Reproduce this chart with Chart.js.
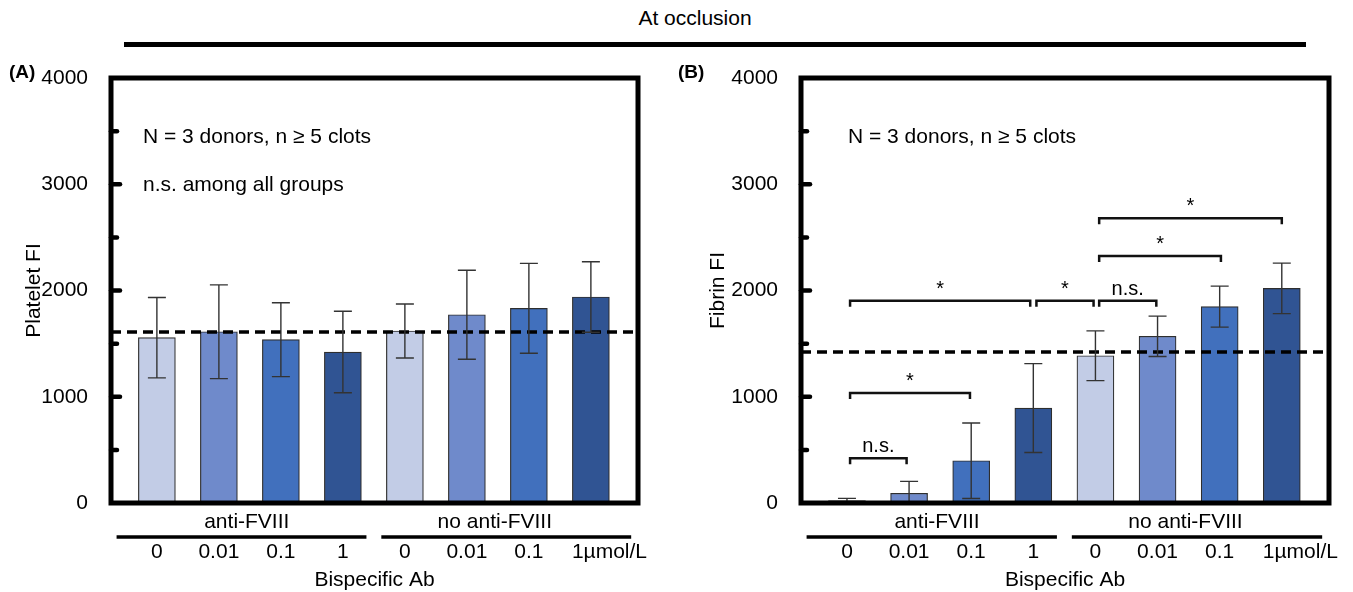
<!DOCTYPE html>
<html>
<head>
<meta charset="utf-8">
<script src="https://cdn.jsdelivr.net/npm/chart.js@4/dist/chart.umd.min.js"></script>
<style>
  body { margin: 0; background: #fff; font-family: "Liberation Sans", Arial, sans-serif; }
  #wrap { position: relative; width: 1353px; height: 592px; overflow: hidden; }
  #title { position: absolute; left: 495px; top: 6px; width: 400px; text-align: center; font-size: 21px; color: #000; }
  #rule { position: absolute; left: 124px; top: 41.5px; width: 1182px; height: 5px; background: #000; }
  canvas { position: absolute; top: 0; }
</style>
</head>
<body>
<div id="wrap">
  <div id="title">At occlusion</div>
  <div id="rule"></div>
  <canvas id="panelA" width="670" height="592" style="left:0px"></canvas>
  <canvas id="panelB" width="683" height="592" style="left:670px"></canvas>
</div>
<script>
// categories and groups (bispecific Ab concentration)
var categories = ['0', '0.01', '0.1', '1', '0', '0.01', '0.1', '1µmol/L'];
var groups = ['anti-FVIII', 'no anti-FVIII'];
var yTickValues = [0, 1000, 2000, 3000, 4000];
var barColors = ['#c2cce6', '#6f8acb', '#4170bd', '#305493', '#c2cce6', '#6f8acb', '#4170bd', '#305493'];

// (A) platelet FI, mean and SD
var platelet = [1556, 1612, 1537, 1421, 1619, 1772, 1832, 1939];
var plateletSD = [378, 441, 348, 384, 254, 419, 423, 332];
var plateletRef = 1610;
var plateletNotes = [['N = 3 donors, n ≥ 5 clots', 3445], ['n.s. among all groups', 2995]];

// (B) fibrin FI, mean and SD
var fibrin = [22, 91, 398, 894, 1386, 1569, 1848, 2020];
var fibrinSD = [22, 113, 355, 418, 234, 190, 193, 238];
var fibrinRef = 1422;
var fibrinNotes = [['N = 3 donors, n ≥ 5 clots', 3445]];
// [from bar, to bar, height, label]
var fibrinBrackets = [
  [0.05, 0.96, 421, 'n.s.'],
  [0.05, 1.98, 1035, '*'],
  [0.05, 2.95, 1904, '*'],
  [3.05, 3.97, 1904, '*'],
  [4.06, 4.98, 1904, 'n.s.'],
  [4.06, 6.02, 2325, '*'],
  [4.06, 7.0, 2679, '*']
];

var FONT = '"Liberation Sans", Arial, sans-serif';
Chart.defaults.font.family = FONT;
Chart.defaults.color = '#000';

var extras = {
  id: 'extras',
  afterDatasetsDraw: function (chart, args, o) {
    var ctx = chart.ctx;
    var xs = chart.scales.x, ys = chart.scales.y;
    var area = chart.chartArea;
    ctx.save();

    // dashed reference line
    ctx.strokeStyle = '#000';
    ctx.lineWidth = 3.5;
    ctx.setLineDash([10, 6]);
    var yr = ys.getPixelForValue(o.ref);
    ctx.beginPath();
    ctx.moveTo(area.left, yr);
    ctx.lineTo(area.right, yr);
    ctx.stroke();
    ctx.setLineDash([]);

    // error bars
    ctx.strokeStyle = '#333';
    ctx.lineWidth = 1.4;
    o.values.forEach(function (v, i) {
      var x = xs.getPixelForValue(i);
      var top = ys.getPixelForValue(v + o.sd[i]);
      var bot = ys.getPixelForValue(Math.max(0, v - o.sd[i]));
      ctx.beginPath();
      ctx.moveTo(x, top); ctx.lineTo(x, bot);
      ctx.moveTo(x - 9, top); ctx.lineTo(x + 9, top);
      if (v - o.sd[i] > 0) { ctx.moveTo(x - 9, bot); ctx.lineTo(x + 9, bot); }
      ctx.stroke();
    });

    // significance brackets
    ctx.strokeStyle = '#111';
    ctx.fillStyle = '#000';
    ctx.lineWidth = 2.5;
    ctx.font = '20px ' + FONT;
    ctx.textAlign = 'center';
    ctx.textBaseline = 'alphabetic';
    (o.brackets || []).forEach(function (b) {
      var x1 = xs.getPixelForValue(b[0]);
      var x2 = xs.getPixelForValue(b[1]);
      var y = ys.getPixelForValue(b[2]);
      ctx.beginPath();
      ctx.moveTo(x1, y + 6); ctx.lineTo(x1, y); ctx.lineTo(x2, y); ctx.lineTo(x2, y + 6);
      ctx.stroke();
      ctx.fillText(b[3], (x1 + x2) / 2, y - 6);
    });

    // frame and inner ticks
    ctx.strokeStyle = '#000';
    ctx.lineWidth = 5;
    ctx.strokeRect(area.left, area.top, area.right - area.left, area.bottom - area.top);
    ctx.lineWidth = 4.5;
    ctx.lineCap = 'round';
    for (var t = 500; t < 4000; t += 500) {
      var yt = ys.getPixelForValue(t);
      ctx.beginPath();
      ctx.moveTo(area.left, yt);
      ctx.lineTo(area.left + (t % 1000 === 0 ? 9 : 6), yt);
      ctx.stroke();
    }
    ctx.lineCap = 'butt';

    // notes inside the plot
    ctx.font = '21px ' + FONT;
    ctx.textAlign = 'left';
    ctx.textBaseline = 'middle';
    o.notes.forEach(function (n) {
      ctx.fillText(n[0], area.left + o.noteX, ys.getPixelForValue(n[1]));
    });

    // group labels, group rules, category labels, axis title
    ctx.textAlign = 'center';
    ctx.lineWidth = 3.5;
    var spans = [[-0.65, 3.38], [3.62, 7.65]];
    groups.forEach(function (g, k) {
      ctx.fillText(g, xs.getPixelForValue(k * 4 + 1.45), area.bottom + 19);
      ctx.beginPath();
      ctx.moveTo(xs.getPixelForValue(spans[k][0]), area.bottom + 34);
      ctx.lineTo(xs.getPixelForValue(spans[k][1]), area.bottom + 34);
      ctx.stroke();
    });
    categories.forEach(function (c, i) {
      var x = xs.getPixelForValue(i);
      if (i === categories.length - 1) {
        ctx.textAlign = 'left';
        ctx.fillText(c, x - 19, area.bottom + 49);
        ctx.textAlign = 'center';
      } else {
        ctx.fillText(c, x, area.bottom + 49);
      }
    });
    ctx.fillText('Bispecific Ab', (area.left + area.right) / 2, area.bottom + 77);

    // panel letter
    ctx.font = 'bold 19px ' + FONT;
    ctx.textAlign = 'left';
    ctx.fillText(o.letter, o.letterX, 72.5);
    ctx.restore();
  }
};

function makePanel(id, values, sd, yTitle, pad, titlePad, extra) {
  var ctx = document.getElementById(id).getContext('2d');
  return new Chart(ctx, {
    type: 'bar',
    data: {
      datasets: [{
        data: values.map(function (v, i) { return { x: i, y: v }; }),
        backgroundColor: barColors,
        borderColor: '#2e2e2e',
        borderWidth: 1.2,
        barThickness: 37
      }]
    },
    options: {
      responsive: false,
      animation: false,
      layout: { padding: pad },
      scales: {
        x: { type: 'linear', min: -0.74, max: 7.76, offset: false, display: false },
        y: {
          min: 0, max: 4000,
          grid: { display: false },
          border: { display: false },
          afterBuildTicks: function (scale) {
            scale.ticks = yTickValues.map(function (v) { return { value: v }; });
          },
          ticks: {
            font: { size: 21 }, padding: 15, color: '#000',
            callback: function (v) { return String(v); }
          },
          title: { display: true, text: yTitle, font: { size: 21 }, color: '#000', padding: { top: titlePad, bottom: 0 } },
          afterFit: function (scale) { scale.width = 111; }
        }
      },
      plugins: {
        legend: { display: false },
        tooltip: { enabled: false },
        extras: extra
      }
    },
    plugins: [extras]
  });
}

makePanel('panelA', platelet, plateletSD, 'Platelet FI',
  { left: 0, right: 32, top: 78, bottom: 89 }, 22,
  { values: platelet, sd: plateletSD, ref: plateletRef, notes: plateletNotes, noteX: 32, brackets: [], letter: '(A)', letterX: 9 });

makePanel('panelB', fibrin, fibrinSD, 'Fibrin FI',
  { left: 20, right: 24, top: 78, bottom: 89 }, 16,
  { values: fibrin, sd: fibrinSD, ref: fibrinRef, notes: fibrinNotes, noteX: 47, brackets: fibrinBrackets, letter: '(B)', letterX: 8 });
</script>
</body>
</html>
